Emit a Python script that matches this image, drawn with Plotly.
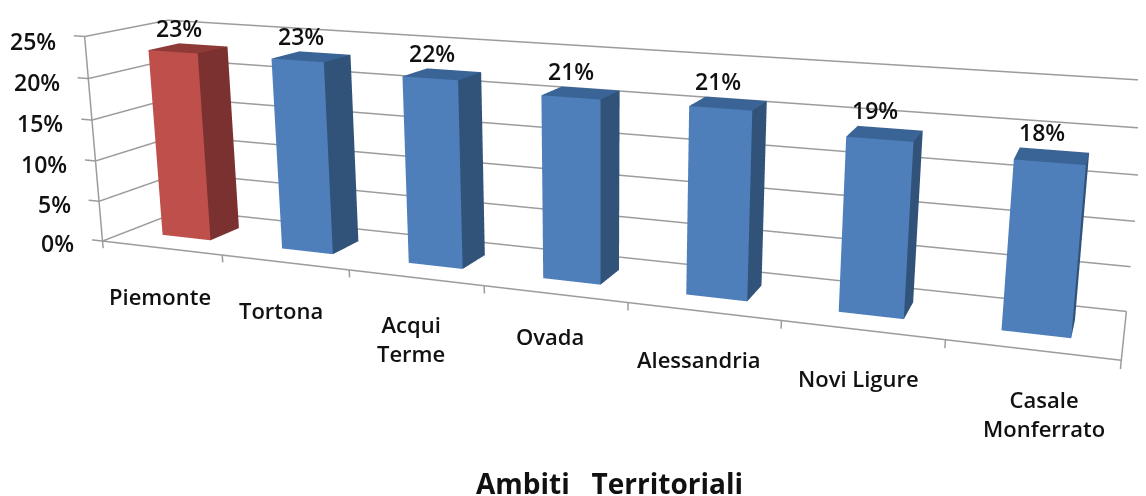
import plotly.graph_objects as go

categories = ["Piemonte", "Tortona", "Acqui<br>Terme", "Ovada", "Alessandria", "Novi Ligure", "Casale<br>Monferrato"]
values = [23, 23, 22, 21, 21, 19, 18]
labels = ["23%", "23%", "22%", "21%", "21%", "19%", "18%"]
z_ticks = [0, 5, 10, 15, 20, 25]
z_tick_labels = ["0%", "5%", "10%", "15%", "20%", "25%"]
bar_colors = ["red", "blue", "blue", "blue", "blue", "blue", "blue"]
label_drop = [-6.1, -5.9, -7.4, -5.0, -5.4, -5.3, -6.5]
label_shift = [-0.04, -0.05, -0.05, -0.04, -0.02, -0.01, 0.10]

palette = {"red": ("#BE4F4B", "#7A3130", "#8E3A37"), "blue": ("#4E7FBB", "#31537A", "#3A6496")}
FONT = "Open Sans"
GRID = "#9C9C9C"
TEXT = "#111111"

# The reference is an oblique, long-lens office chart; plotly's field of view is fixed,
# so its depth axis is expressed as an oblique axis of the scene.
SX, KX, SZ = 0.2815, -0.005718, 4.172
hw, b0, b1 = 0.204, 0.31, 0.69
xr, yr, zr = [-1.5, 7.5], [-1.5, 1.5], [-12, 30]
xmin, xmax = -0.5, len(values) - 0.5


def pt(cat, b, v):
    return cat + SX * b + KX * v, b, v + SZ * b


fig = go.Figure()


def bar(i, v, colors):
    corners = [(i - hw, b0, 0), (i + hw, b0, 0), (i + hw, b1, 0), (i - hw, b1, 0),
               (i - hw, b0, v), (i + hw, b0, v), (i + hw, b1, v), (i - hw, b1, v)]
    pts = [pt(*c) for c in corners]
    faces = [
        (0, 1, 5, colors[0]), (0, 5, 4, colors[0]),
        (1, 2, 6, colors[1]), (1, 6, 5, colors[1]),
        (4, 5, 6, colors[2]), (4, 6, 7, colors[2]),
    ]
    fig.add_trace(go.Mesh3d(
        x=[p[0] for p in pts], y=[p[1] for p in pts], z=[p[2] for p in pts],
        i=[f[0] for f in faces], j=[f[1] for f in faces], k=[f[2] for f in faces],
        facecolor=[f[3] for f in faces], flatshading=True,
        lighting=dict(ambient=1, diffuse=0, specular=0, roughness=1, fresnel=0),
        hoverinfo="skip", showscale=False))


for i, v in enumerate(values):
    bar(i, v, palette[bar_colors[i]])

lx, ly, lz = [], [], []


def seg(*points):
    for p in points:
        x, y, z = pt(*p)
        lx.append(x); ly.append(y); lz.append(z)
    lx.append(None); ly.append(None); lz.append(None)


for t in z_ticks:
    seg((xmin - 0.09, 0, t), (xmin, 0, t), (xmin, 1, t), (xmax, 1, t))
seg((xmin, 0, 0), (xmin, 0, 25))
seg((xmin, 0, 0), (xmax, 0, 0), (xmax, 1, 0))
for i in range(len(values) + 1):
    seg((xmin + i, 0, 0), (xmin + i, 0, -0.9))
fig.add_trace(go.Scatter3d(x=lx, y=ly, z=lz, mode="lines", line=dict(color=GRID, width=3),
                           hoverinfo="skip", showlegend=False))

ann = []
for i, (v, l) in enumerate(zip(values, labels)):
    x, y, z = pt(i - 0.07, 0.5, v + 2.4)
    ann.append(dict(x=x, y=y, z=z, text=l, showarrow=False, font=dict(size=23, color=TEXT, family=FONT, weight=600)))
for i, c in enumerate(categories):
    x, y, z = pt(i + label_shift[i], 0, label_drop[i])
    ann.append(dict(x=x, y=y, z=z, text=c, showarrow=False, font=dict(size=22, color=TEXT, family=FONT, weight=600)))
for t, l in zip(z_ticks, z_tick_labels):
    x, y, z = pt(xmin - 0.23, 0, t - 0.7)
    ann.append(dict(x=x, y=y, z=z, text=l, showarrow=False, xanchor="right", font=dict(size=23, color=TEXT, family=FONT, weight=600)))

axis = dict(visible=False, showgrid=False, zeroline=False, showspikes=False)
fig.update_layout(
    width=1146, height=496, margin=dict(l=0, r=0, t=0, b=0),
    paper_bgcolor="white", showlegend=False,
    scene=dict(
        xaxis=dict(axis, range=xr), yaxis=dict(axis, range=yr), zaxis=dict(axis, range=zr),
        aspectmode="manual", aspectratio=dict(x=1.97811, y=0.28749, z=0.5518),
        camera=dict(eye=dict(x=0.1494, y=-0.87192, z=0.04764),
                    center=dict(x=0.0363, y=-0.01785, z=-0.05483),
                    up=dict(x=-0.10614, y=0.10433, z=0.98604),
                    projection=dict(type="perspective")),
        annotations=ann,
        domain=dict(x=[0, 1], y=[0, 1]),
    ),
    annotations=[dict(x=0.525, y=0.0, xref="paper", yref="paper", text="<b>Ambiti   Territoriali</b>", showarrow=False,
                      font=dict(size=28, color=TEXT, family=FONT))],
)
fig.write_html("out.html")
